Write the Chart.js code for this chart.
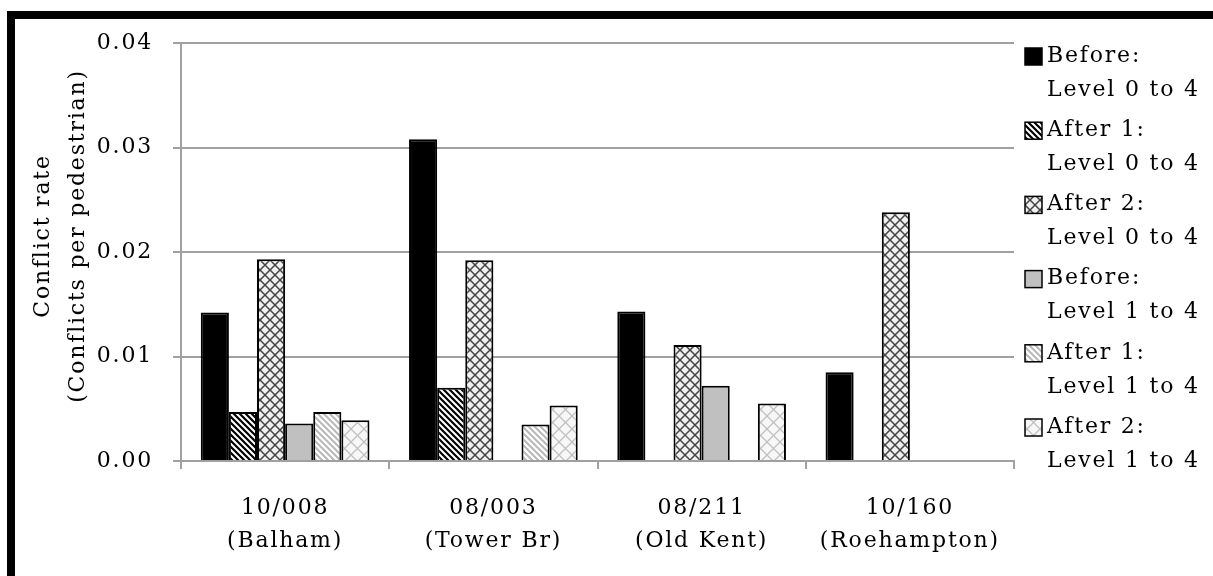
<!DOCTYPE html>
<html>
<head>
<meta charset="utf-8">
<script src="https://cdn.jsdelivr.net/npm/chart.js@4"></script>
<style>
  body { margin: 0; background: #fff; }
  #wrap { position: relative; width: 1213px; height: 576px; overflow: hidden; }
  #frame { position: absolute; left: 7px; top: 11px; width: 1300px; height: 700px;
           border-left: 8px solid #000; border-top: 8px solid #000; }
  #conflictChart { position: absolute; left: 0; top: 0; }
</style>
</head>
<body>
<div id="wrap">
  <div id="frame"></div>
  <canvas id="conflictChart" width="1213" height="576"></canvas>
</div>
<script>
const sites = [
  ['10/008', '(Balham)'],
  ['08/003', '(Tower Br)'],
  ['08/211', '(Old Kent)'],
  ['10/160', '(Roehampton)']
];
const seriesLabels = [
  ['Before:', 'Level 0 to 4'],
  ['After 1:', 'Level 0 to 4'],
  ['After 2:', 'Level 0 to 4'],
  ['Before:', 'Level 1 to 4'],
  ['After 1:', 'Level 1 to 4'],
  ['After 2:', 'Level 1 to 4']
];
const yTitle = ['Conflict rate', '(Conflicts per pedestrian)'];
const beforeL0 = [0.0142, 0.0308, 0.0143, 0.0085];
const after1L0 = [0.0047, 0.0070, null, null];
const after2L0 = [0.0193, 0.0192, 0.0111, 0.0238];
const beforeL1 = [0.0036, null, 0.0072, null];
const after1L1 = [0.0047, 0.0035, null, null];
const after2L1 = [0.0039, 0.0053, 0.0055, null];
const yTicks = [0, 0.01, 0.02, 0.03, 0.04];

const FONT = 'DejaVu Serif';
const FSIZE = 22;
const SPACING = '1.8px';
const GRID = '#a0a0a0';

// hatch fills like the office chart patterns
function stripes(fg, bg, size, lw) {
  const c = document.createElement('canvas');
  c.width = size; c.height = size;
  const g = c.getContext('2d');
  g.fillStyle = bg; g.fillRect(0, 0, size, size);
  g.strokeStyle = fg; g.lineWidth = lw;
  g.beginPath();
  g.moveTo(-1, -1); g.lineTo(size + 1, size + 1);
  g.moveTo(-1, size - 1); g.lineTo(1, size + 1);
  g.moveTo(size - 1, -1); g.lineTo(size + 1, 1);
  g.stroke();
  return g.createPattern(c, 'repeat');
}
function cross(fg, bg, size, lw) {
  const c = document.createElement('canvas');
  c.width = size; c.height = size;
  const g = c.getContext('2d');
  g.fillStyle = bg; g.fillRect(0, 0, size, size);
  g.strokeStyle = fg; g.lineWidth = lw;
  g.beginPath();
  g.moveTo(0, 0); g.lineTo(size, size);
  g.moveTo(size, 0); g.lineTo(0, size);
  g.stroke();
  return g.createPattern(c, 'repeat');
}

const fills = [
  '#000000',
  stripes('#000', '#fff', 6, 2.2),
  cross('#444', '#f0f0f0', 10, 1.5),
  '#c0c0c0',
  stripes('#b8b8b8', '#fff', 6, 2),
  cross('#c0c0c0', '#f7f7f7', 13, 1.3)
];
const values = [beforeL0, after1L0, after2L0, beforeL1, after1L1, after2L1];

const datasets = values.map((v, i) => ({
  label: seriesLabels[i].join(' '),
  data: v,
  backgroundColor: fills[i],
  borderColor: '#000',
  borderWidth: 2,
  categoryPercentage: 0.81,
  barPercentage: 1.0
}));

const spacingPlugin = {
  id: 'spacing',
  beforeUpdate(chart) { chart.ctx.letterSpacing = SPACING; },
  beforeDraw(chart) { chart.ctx.letterSpacing = SPACING; }
};

// right-hand legend and the rotated y title
const textPlugin = {
  id: 'sideText',
  afterDraw(chart) {
    const ctx = chart.ctx;
    ctx.save();
    ctx.letterSpacing = SPACING;
    ctx.font = FSIZE + 'px "' + FONT + '"';
    ctx.textBaseline = 'middle';
    const x0 = 1025, step = 74.2, lineGap = 34;
    seriesLabels.forEach((lines, i) => {
      const y = 56 + i * step;
      ctx.fillStyle = fills[i];
      ctx.fillRect(x0, y - 8, 17, 17);
      ctx.strokeStyle = '#000';
      ctx.lineWidth = 1.5;
      ctx.strokeRect(x0, y - 8, 17, 17);
      ctx.fillStyle = '#000';
      ctx.textAlign = 'left';
      ctx.fillText(lines[0], 1047, y);
      ctx.fillText(lines[1], 1047, y + lineGap);
    });
    ctx.translate(0, 236);
    ctx.rotate(-Math.PI / 2);
    ctx.textAlign = 'center';
    ctx.fillText(yTitle[0], 0, 43);
    ctx.fillText(yTitle[1], 0, 78);
    ctx.restore();
  }
};

const ctx = document.getElementById('conflictChart').getContext('2d');
new Chart(ctx, {
  type: 'bar',
  data: { labels: sites, datasets: datasets },
  options: {
    responsive: false,
    animation: false,
    layout: { padding: { left: 0, top: 43, right: 199, bottom: 0 } },
    plugins: { legend: { display: false }, tooltip: { enabled: false } },
    scales: {
      x: {
        offset: true,
        grid: { offset: true, drawOnChartArea: false, drawTicks: true, tickLength: 8, color: GRID, lineWidth: 2 },
        border: { color: GRID, width: 2 },
        ticks: { color: '#000', font: { family: FONT, size: FSIZE, lineHeight: 1.5 }, padding: 23, maxRotation: 0, autoSkip: false },
        afterFit(s) { s.height = 115; }
      },
      y: {
        min: 0,
        max: 0.04,
        afterBuildTicks(s) { s.ticks = yTicks.map(v => ({ value: v })); },
        grid: { color: GRID, lineWidth: 2, tickLength: 8 },
        border: { color: GRID, width: 2 },
        ticks: { color: '#000', font: { family: FONT, size: FSIZE }, padding: 20, callback: v => v.toFixed(2) },
        afterFit(s) { s.width = 181; }
      }
    }
  },
  plugins: [spacingPlugin, textPlugin]
});
</script>
</body>
</html>
